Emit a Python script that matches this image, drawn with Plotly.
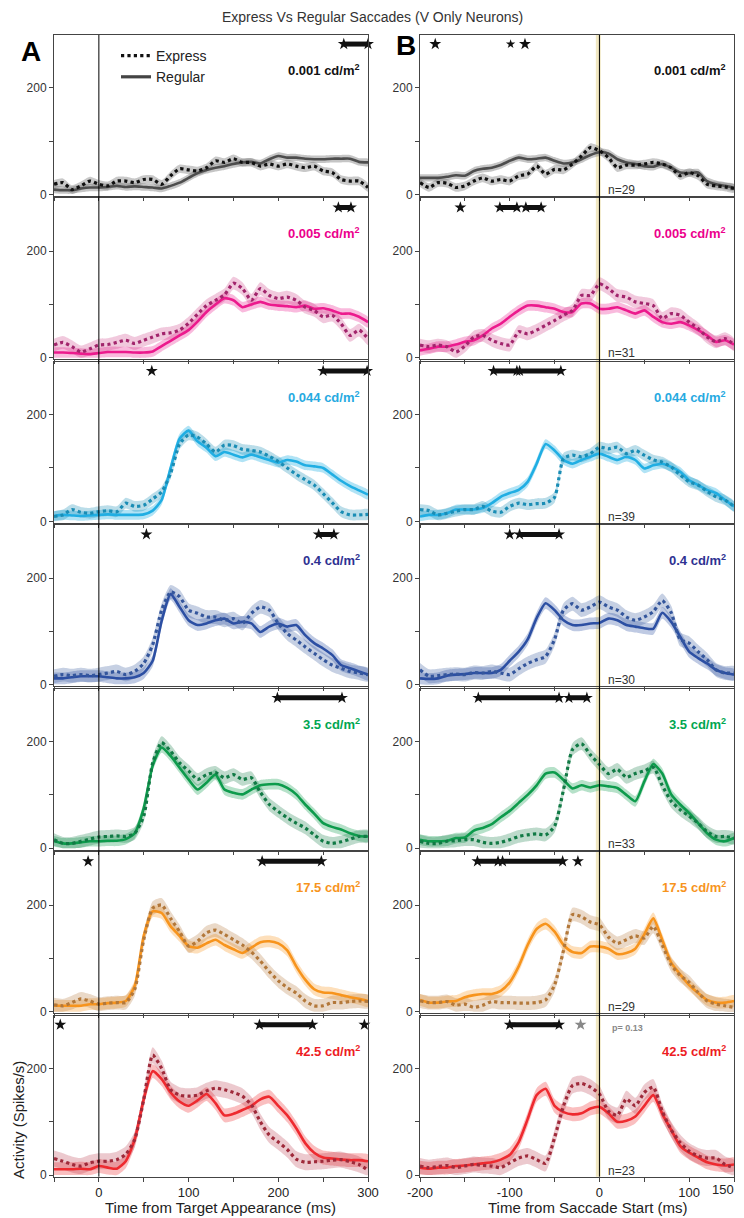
import plotly.graph_objects as go

W, H = 744, 1218   # figure size; the page adds an 8 px body margin
OFF = 8            # screen px = figure px + 8

# ---------------- data ----------------
t_left = list(range(-50, 301, 10))     # Time from target appearance (ms)
t_right = list(range(-200, 151, 10))   # Time from saccade start (ms)

lum_labels = ["0.001", "0.005", "0.044", "0.4", "3.5", "17.5", "42.5"]
n_labels = [29, 31, 39, 30, 33, 29, 23]

# Target-aligned (panel A), express / regular
A1_exp = [19,22,9,16,25,19,16,25,25,22,28,28,19,35,48,46,44,50,63,60,67,60,60,53,57,53,57,53,50,53,44,41,28,25,25,13]
A1_reg = [9,8,8,11,13,13,14,16,14,15,14,13,11,16,22,31,40,46,50,53,57,60,61,58,66,72,69,69,67,66,66,67,67,67,61,60]
A2_exp = [24,29,21,11,17,24,25,29,33,27,33,39,45,47,52,65,82,98,108,118,140,130,108,130,117,111,114,108,95,89,77,80,64,42,52,36]
A2_reg = [10,10,9,8,7,9,11,11,11,10,10,12,22,32,42,52,68,86,100,112,108,95,100,105,100,98,97,95,98,92,93,89,83,83,77,67]
A3_exp = [9,12,22,17,15,18,20,18,34,28,30,42,55,90,145,162,158,145,130,143,142,135,133,130,122,112,100,88,78,68,52,35,18,12,12,13]
A3_reg = [10,12,11,10,11,12,13,12,12,12,13,20,40,100,155,170,150,138,122,130,125,120,125,120,115,110,115,112,105,103,100,88,76,66,58,50]
A4_exp = [16,19,17,19,17,19,22,25,19,25,40,75,140,174,165,140,134,127,127,121,124,115,134,146,140,115,96,84,71,59,47,37,31,25,22,19]
A4_reg = [12,12,14,16,16,16,14,12,12,14,22,45,120,170,146,121,112,115,121,124,115,118,115,99,109,115,109,112,93,78,68,56,37,31,25,19]
A5_exp = [16,9,9,13,17,21,22,23,22,28,60,160,198,182,160,145,129,138,142,132,138,129,132,105,82,69,57,47,38,25,13,9,12,17,22,22]
A5_reg = [13,9,9,11,13,13,14,14,17,28,75,155,189,173,151,129,110,123,138,110,104,101,110,118,120,120,113,101,82,65,47,40,35,28,23,22]
A6_exp = [13,11,17,24,20,14,16,17,17,42,135,194,200,175,150,123,132,148,153,145,135,125,112,95,75,58,45,35,20,11,11,17,17,19,20,19]
A6_reg = [11,11,11,11,14,14,16,17,20,48,142,188,185,160,142,123,120,128,135,125,117,110,120,130,132,128,115,85,60,42,36,35,31,27,24,20]
A7_exp = [31,26,20,17,23,26,26,29,39,67,142,225,200,160,150,148,150,158,163,160,155,148,132,100,75,62,48,30,24,25,26,28,29,25,20,9]
A7_reg = [11,11,11,12,11,17,14,12,26,67,142,195,180,155,138,130,140,152,135,112,115,122,130,142,147,130,112,88,60,42,33,31,29,28,28,26]

# Saccade-aligned (panel B), express / regular
B1_exp = [22,13,22,21,13,16,25,31,25,28,25,35,38,53,38,47,46,57,72,88,82,69,50,55,55,57,60,57,50,35,41,35,19,16,14,11]
B1_reg = [31,31,31,33,36,35,44,48,50,55,63,69,66,67,69,63,58,60,66,74,79,77,66,60,57,53,52,57,50,41,40,41,25,19,16,13]
B2_exp = [24,21,24,21,11,22,39,42,33,27,24,49,45,52,61,70,80,89,117,117,139,130,117,114,105,102,98,74,83,80,67,55,39,30,36,25]
B2_reg = [14,17,21,21,25,30,33,42,55,64,77,89,98,98,95,92,86,86,102,102,92,92,95,89,83,89,77,67,64,67,61,52,42,30,33,25]
B3_exp = [22,20,12,15,19,22,22,28,19,17,28,34,31,33,34,45,118,124,121,127,139,136,139,127,133,124,115,111,102,87,74,68,56,46,40,28]
B3_reg = [9,12,12,15,22,22,22,25,34,46,53,59,74,108,145,133,115,108,115,121,127,121,115,121,115,99,105,108,102,93,77,68,59,53,40,28]
B4_exp = [28,16,17,19,20,19,23,22,25,22,19,30,40,47,53,85,140,152,140,146,155,146,140,127,121,127,137,158,135,85,78,62,47,28,22,22]
B4_reg = [12,11,12,17,19,20,22,22,22,28,45,62,85,125,153,140,121,112,112,115,116,124,121,112,109,106,105,135,118,90,62,50,40,28,22,19]
B5_exp = [13,9,9,13,14,16,16,11,9,11,16,22,25,27,25,41,110,185,196,175,157,140,148,133,140,145,152,118,88,72,60,47,31,22,22,19]
B5_reg = [16,13,13,14,19,20,33,38,45,58,70,85,100,118,140,142,128,112,118,114,118,116,113,100,88,125,158,140,101,82,66,47,28,16,13,19]
B6_exp = [20,17,17,19,12,14,8,12,19,17,17,16,16,17,22,50,115,182,178,168,163,140,128,135,142,138,160,125,88,68,55,36,20,14,11,8]
B6_reg = [22,17,17,19,20,27,31,33,33,39,55,85,125,155,165,150,125,112,110,122,122,118,108,110,118,145,175,135,92,70,50,35,22,17,17,20]
B7_exp = [17,14,16,18,14,17,20,18,17,14,23,32,36,29,22,70,130,168,172,165,152,120,112,143,130,155,165,120,85,61,45,36,32,32,20,14]
B7_reg = [14,12,14,14,17,18,20,22,24,29,38,62,105,150,162,130,118,114,116,125,128,116,100,102,110,130,150,115,85,55,42,33,24,20,18,20]

A_exp = [A1_exp, A2_exp, A3_exp, A4_exp, A5_exp, A6_exp, A7_exp]
A_reg = [A1_reg, A2_reg, A3_reg, A4_reg, A5_reg, A6_reg, A7_reg]
B_exp = [B1_exp, B2_exp, B3_exp, B4_exp, B5_exp, B6_exp, B7_exp]
B_reg = [B1_reg, B2_reg, B3_reg, B4_reg, B5_reg, B6_reg, B7_reg]

# SEM half-widths of the shaded bands (spikes/s), express / regular
sem_exp = [8, 12, 10, 13, 12, 13, 15]
sem_reg = [7, 10, 9, 11, 10, 11, 13]

# significance intervals (ms): (start, end); single star where start == end
sig_A = [[(273, 300)], [(267, 281)], [(59, 59), (250, 299)], [(53, 53), (245, 262)],
         [(199, 271)], [(-12, -12), (182, 248)], [(-43, -43), (179, 238), (296, 296)]]
sig_B = [[(-183, -183), (-83, -83)], [(-155, -155), (-111, -92), (-82, -65)],
         [(-118, -92), (-89, -43)], [(-100, -100), (-89, -45)], [(-135, -45), (-34, -14)],
         [(-136, -113), (-108, -41), (-24, -24)], [(-100, -45)]]
small_star_B1 = -99
gray_star_B7 = -21

# ---------------- styles ----------------
col_reg = ["#4d4d4d", "#ec1a8d", "#20aee3", "#2c4fa3", "#0d9b4c", "#f7941d", "#ee2a2f"]
col_exp = ["#111111", "#a2256c", "#1a8db5", "#34569c", "#117a45", "#b3783a", "#9f2a3a"]
band_reg = ["rgba(110,110,110,0.40)", "rgba(236,26,141,0.30)", "rgba(32,174,227,0.35)",
            "rgba(44,79,163,0.30)", "rgba(13,155,76,0.30)", "rgba(247,148,29,0.30)",
            "rgba(238,42,47,0.30)"]
band_exp = ["rgba(120,120,120,0.40)", "rgba(200,40,120,0.25)", "rgba(26,141,181,0.30)",
            "rgba(52,86,156,0.28)", "rgba(17,122,69,0.28)", "rgba(179,120,58,0.28)",
            "rgba(180,40,60,0.25)"]
lab_col = ["#111111", "#ec008c", "#27aae1", "#2e3192", "#00a651", "#f7941d", "#ed1c24"]

FONT = "Arial, Liberation Sans, sans-serif"
fig = go.Figure()

def X(px):   # screen x pixel -> paper
    return (px - OFF) / W

def Y(px):   # screen y pixel -> paper
    return 1 - (px - OFF) / H

xdom = [[X(54), X(368)], [X(420), X(734)]]
xrng = [[-50, 300], [-200, 150]]
row_top = [35 + 163.45 * r for r in range(7)]
PH = 161
layout = {}
STAR = 9

for r in range(7):
    for c in range(2):
        idx = r * 2 + c + 1
        xa = "x" if idx == 1 else f"x{idx}"
        ya = "y" if idx == 1 else f"y{idx}"
        t = t_left if c == 0 else t_right
        ex = (A_exp if c == 0 else B_exp)[r]
        rg = (A_reg if c == 0 else B_reg)[r]
        for vals, sem, bc in ((rg, sem_reg[r], band_reg[r]), (ex, sem_exp[r], band_exp[r])):
            up = [v + sem for v in vals]
            lo = [max(v - sem, 0) for v in vals]
            fig.add_trace(go.Scatter(x=t + t[::-1], y=up + lo[::-1], fill="toself",
                                     fillcolor=bc, line=dict(width=0, shape="spline", smoothing=0.6),
                                     mode="lines", hoverinfo="skip", showlegend=False,
                                     xaxis=xa, yaxis=ya))
        fig.add_trace(go.Scatter(x=t, y=rg, mode="lines",
                                 line=dict(color=col_reg[r], width=2.6, shape="spline", smoothing=0.6),
                                 showlegend=False, xaxis=xa, yaxis=ya))
        fig.add_trace(go.Scatter(x=t, y=ex, mode="lines",
                                 line=dict(color=col_exp[r], width=3.2, dash="dot", shape="spline", smoothing=0.6),
                                 showlegend=False, xaxis=xa, yaxis=ya))
        # significance
        for (s, e) in (sig_A if c == 0 else sig_B)[r]:
            if s == e:
                fig.add_trace(go.Scatter(x=[s], y=[282], mode="markers",
                                         marker=dict(symbol="star", size=STAR, color="#111"),
                                         showlegend=False, xaxis=xa, yaxis=ya, cliponaxis=False))
            else:
                fig.add_trace(go.Scatter(x=[s, e], y=[282, 282], mode="lines+markers",
                                         line=dict(color="#111", width=5),
                                         marker=dict(symbol="star", size=STAR, color="#111"),
                                         showlegend=False, xaxis=xa, yaxis=ya, cliponaxis=False))
        bottom = r == 6
        if c == 0:
            tv = list(range(-50, 301, 50))
            tt = ["", "0", "", "100", "", "200", "", "300"]
        else:
            tv = list(range(-200, 151, 50))
            tt = ["-200", "", "-100", "", "0", "", "100", ""]   # "150" drawn as annotation
        layout["xaxis" if idx == 1 else f"xaxis{idx}"] = dict(
            domain=xdom[c], anchor=ya, range=xrng[c], showline=True, mirror=True,
            linecolor="#444", linewidth=1, ticks="outside", ticklen=4, tickcolor="#444",
            tickvals=tv, ticktext=tt, showticklabels=bottom, showgrid=False, zeroline=False,
            automargin=False, ticklabeloverflow="allow",
            tickfont=dict(size=13, color="#222", family=FONT))
        top = row_top[r]
        layout["yaxis" if idx == 1 else f"yaxis{idx}"] = dict(
            domain=[Y(top + PH), Y(top)], anchor=xa, range=[-3, 299], showline=True,
            mirror=True, linecolor="#444", linewidth=1, ticks="outside", ticklen=4,
            tickcolor="#444", tickvals=[0, 100, 200], ticktext=["0", "", "200"],
            showgrid=False, zeroline=False, automargin=False, ticklabeloverflow="allow",
            tickfont=dict(size=12, color="#333", family=FONT))

# extra stars
fig.add_trace(go.Scatter(x=[small_star_B1], y=[282], mode="markers",
                         marker=dict(symbol="star", size=7, color="#111"),
                         showlegend=False, xaxis="x2", yaxis="y2"))
fig.add_trace(go.Scatter(x=[gray_star_B7], y=[282], mode="markers",
                         marker=dict(symbol="star", size=STAR, color="#888"),
                         showlegend=False, xaxis="x14", yaxis="y14"))

# legend samples
fig.add_trace(go.Scatter(x=[None], y=[None], mode="lines", name="Express",
                         line=dict(color="#111", width=3.2, dash="dot")))
fig.add_trace(go.Scatter(x=[None], y=[None], mode="lines", name="Regular",
                         line=dict(color="#444", width=3.2)))

def txt(x, y, text, size, color, xanchor="center", angle=0):
    return dict(x=X(x), y=Y(y), xref="paper", yref="paper", text=text, showarrow=False,
                xanchor=xanchor, yanchor="middle", textangle=angle,
                font=dict(size=size, color=color, family=FONT))

ann = []
for r in range(7):
    for c in range(2):
        ann.append(txt(362 if c == 0 else 728, row_top[r] + 35,
                       f"<b>{lum_labels[r]} cd/m<sup>2</sup></b>", 13, lab_col[r], "right"))
    ann.append(txt(606, row_top[r] + PH - 6, f"n={n_labels[r]}", 12, "#333", "left"))
ann.append(txt(610, row_top[6] + 12, "<b>p= 0.13</b>", 9, "#888", "left"))
ann.append(txt(372, 17, "Express Vs Regular Saccades (V Only Neurons)", 14, "#333"))
ann.append(txt(31, 51, "<b>A</b>", 28, "#000"))
ann.append(txt(406, 46, "<b>B</b>", 28, "#000"))
ann.append(txt(736, 1189, "150", 13, "#222", "right"))
ann.append(txt(220, 1207, "Time from Target Appearance (ms)", 15, "#222"))
ann.append(txt(587, 1207, "Time from Saccade Start (ms)", 15, "#222"))
ann.append(txt(18, 1120, "Activity (Spikes/s)", 15, "#222", angle=-90))

y_bot, y_top = Y(row_top[6] + PH), Y(row_top[0])
shapes = [
    dict(type="line", xref="x", yref="paper", x0=0, x1=0, y0=y_bot, y1=y_top,
         line=dict(color="#000", width=1), layer="above"),
    dict(type="rect", xref="x2", yref="paper", x0=-4, x1=1.5, y0=y_bot, y1=y_top,
         fillcolor="#f1e8c2", line=dict(width=0), layer="below"),
    dict(type="line", xref="x2", yref="paper", x0=0, x1=0, y0=y_bot, y1=y_top,
         line=dict(color="#000", width=1), layer="above"),
]

fig.update_layout(**layout)
fig.update_layout(
    width=W, height=H, margin=dict(l=0, r=0, t=0, b=0, pad=0, autoexpand=False),
    paper_bgcolor="white", plot_bgcolor="white",
    annotations=ann, shapes=shapes,
    font=dict(family=FONT, color="#222"),
    showlegend=True,
    legend=dict(x=X(116), y=Y(40), xanchor="left", yanchor="top", bgcolor="rgba(0,0,0,0)",
                font=dict(size=14, color="#222", family=FONT), itemwidth=30, tracegroupgap=0),
)

fig.write_html("out.html")
